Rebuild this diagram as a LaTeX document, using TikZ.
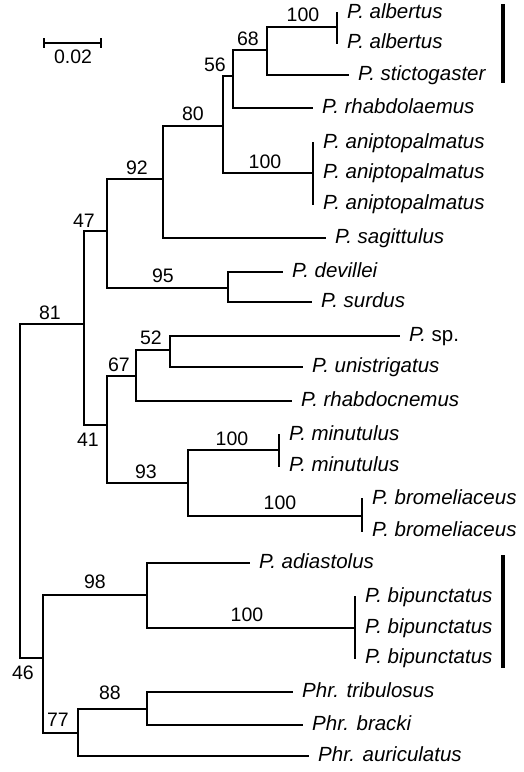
\documentclass[tikz,border=0pt]{standalone}
\usepackage{fontspec}
\setmainfont{Liberation Sans}
\usepackage{tikz}
\usetikzlibrary{calc, positioning}

\begin{document}
\begin{tikzpicture}[x=1pt, y=-1pt,
    br/.style={line width=1.9pt, line cap=rect},
    clade/.style={line width=4pt},
    leaf/.style={anchor=west, inner xsep=10pt, inner ysep=0pt,
        text height=14pt, text depth=4pt,
        font=\fontsize{20.5}{23}\selectfont\itshape},
    bs/.style={inner sep=0pt, font=\fontsize{19.5}{22}\selectfont}]

    \useasboundingbox (0,0) rectangle (524,772);

    % 1. Thang tỉ lệ
    \draw[br] (44,39) -- (44,47) (44,43) -- (101,43) (101,39) -- (101,47);
    \node[bs] (scale) at (73,57) {0.02};

    % 2. Các nút trong
    \coordinate (root) at (20,491);
    \coordinate (n81) at (84,324);
    \coordinate (n47) at (107,231);
    \coordinate (n92) at (163,179);
    \coordinate (n80) at (223,126);
    \coordinate (n56) at (233,76);
    \coordinate (n68) at (267,50);
    \coordinate (alb) at (337,27);
    \coordinate (anip) at (313,173);
    \coordinate (n95) at (228,288);
    \coordinate (n41) at (107,425);
    \coordinate (n67) at (136,376);
    \coordinate (n52) at (170,350);
    \coordinate (n93) at (188,483);
    \coordinate (minu) at (279,450);
    \coordinate (brom) at (362,516);
    \coordinate (n46) at (43,658);
    \coordinate (n98) at (147,595);
    \coordinate (bip) at (355,628);
    \coordinate (n77) at (78,733);
    \coordinate (n88) at (147,709);

    % 3. Tên loài
    \node[leaf] (alb1) at (337,13) {P. albertus};
    \node[leaf] (alb2) at (337,43) {P. albertus};
    \node[leaf] (stic) at (348,75) {P. stictogaster};
    \node[leaf] (rhl) at (312,108) {P. rhabdolaemus};
    \node[leaf] (anip1) at (313,143) {P. aniptopalmatus};
    \node[leaf] (anip2) at (313,173) {P. aniptopalmatus};
    \node[leaf] (anip3) at (313,204) {P. aniptopalmatus};
    \node[leaf] (sag) at (325,238) {P. sagittulus};
    \node[leaf] (dev) at (282,272) {P. devillei};
    \node[leaf] (sur) at (311,302) {P. surdus};
    \node[leaf] (sp) at (399,336) {P. \textup{sp.}};
    \node[leaf] (uni) at (302,367) {P. unistrigatus};
    \node[leaf] (rhc) at (291,401) {P. rhabdocnemus};
    \node[leaf] (min1) at (279,435) {P. minutulus};
    \node[leaf] (min2) at (279,466) {P. minutulus};
    \node[leaf] (brom1) at (362,499) {P. bromeliaceus};
    \node[leaf] (brom2) at (362,531) {P. bromeliaceus};
    \node[leaf] (adi) at (249,563) {P. adiastolus};
    \node[leaf] (bip1) at (355,597) {P. bipunctatus};
    \node[leaf] (bip2) at (355,628) {P. bipunctatus};
    \node[leaf] (bip3) at (355,658) {P. bipunctatus};
    \node[leaf] (tri) at (292,692) {Phr. tribulosus};
    \node[leaf] (bra) at (302,725) {Phr. bracki};
    \node[leaf] (aur) at (308,756) {Phr. auriculatus};

    % 4. Các nhánh
    \draw[br] (root) |- (n81);
    \draw[br] (root) |- (n46);
    \draw[br] (n81) |- (n47);
    \draw[br] (n81) |- (n41);
    \draw[br] (n47) |- (n92);
    \draw[br] (n47) |- (n95);
    \draw[br] (n92) |- (n80);
    \draw[br] (n92) |- (sag.west);
    \draw[br] (n80) |- (n56);
    \draw[br] (n80) |- (anip);
    \draw[br] (n56) |- (n68);
    \draw[br] (n56) |- (rhl.west);
    \draw[br] (n68) |- (alb);
    \draw[br] (n68) |- (stic.west);
    \draw[br] (n95) |- (dev.west);
    \draw[br] (n95) |- (sur.west);
    \draw[br] (n41) |- (n67);
    \draw[br] (n41) |- (n93);
    \draw[br] (n67) |- (n52);
    \draw[br] (n67) |- (rhc.west);
    \draw[br] (n52) |- (sp.west);
    \draw[br] (n52) |- (uni.west);
    \draw[br] (n93) |- (minu);
    \draw[br] (n93) |- (brom);
    \draw[br] (n46) |- (n98);
    \draw[br] (n46) |- (n77);
    \draw[br] (n98) |- (adi.west);
    \draw[br] (n98) |- (bip);
    \draw[br] (n77) |- (n88);
    \draw[br] (n77) |- (aur.west);
    \draw[br] (n88) |- (tri.west);
    \draw[br] (n88) |- (bra.west);

    % Các trình tự giống nhau
    \draw[br] (alb1.west) -- (alb2.west);
    \draw[br] (anip1.west) -- (anip3.west);
    \draw[br] (min1.west) -- (min2.west);
    \draw[br] (brom1.west) -- (brom2.west);
    \draw[br] (bip1.west) -- (bip3.west);

    % 5. Giá trị bootstrap
    \node[bs] (b100a) at (303,15) {100};
    \node[bs] (b68) at (248,39) {68};
    \node[bs] (b56) at (215,65) {56};
    \node[bs] (b80) at (193,114) {80};
    \node[bs] (b100b) at (265,162) {100};
    \node[bs] (b92) at (137,168) {92};
    \node[bs] (b47) at (84,221) {47};
    \node[bs] (b95) at (163,276) {95};
    \node[bs] (b81) at (50,313) {81};
    \node[bs] (b52) at (151,338) {52};
    \node[bs] (b67) at (119,365) {67};
    \node[bs] (b41) at (88,440) {41};
    \node[bs] (b100c) at (232,439) {100};
    \node[bs] (b93) at (146,472) {93};
    \node[bs] (b100d) at (280,503) {100};
    \node[bs] (b98) at (95,582) {98};
    \node[bs] (b100e) at (247,615) {100};
    \node[bs] (b46) at (23,673) {46};
    \node[bs] (b88) at (110,693) {88};
    \node[bs] (b77) at (58,720) {77};

    % 6. Vạch nhóm
    \draw[clade] (503,4) -- (503,83);
    \draw[clade] (503,555) -- (503,668);
\end{tikzpicture}
\end{document}
